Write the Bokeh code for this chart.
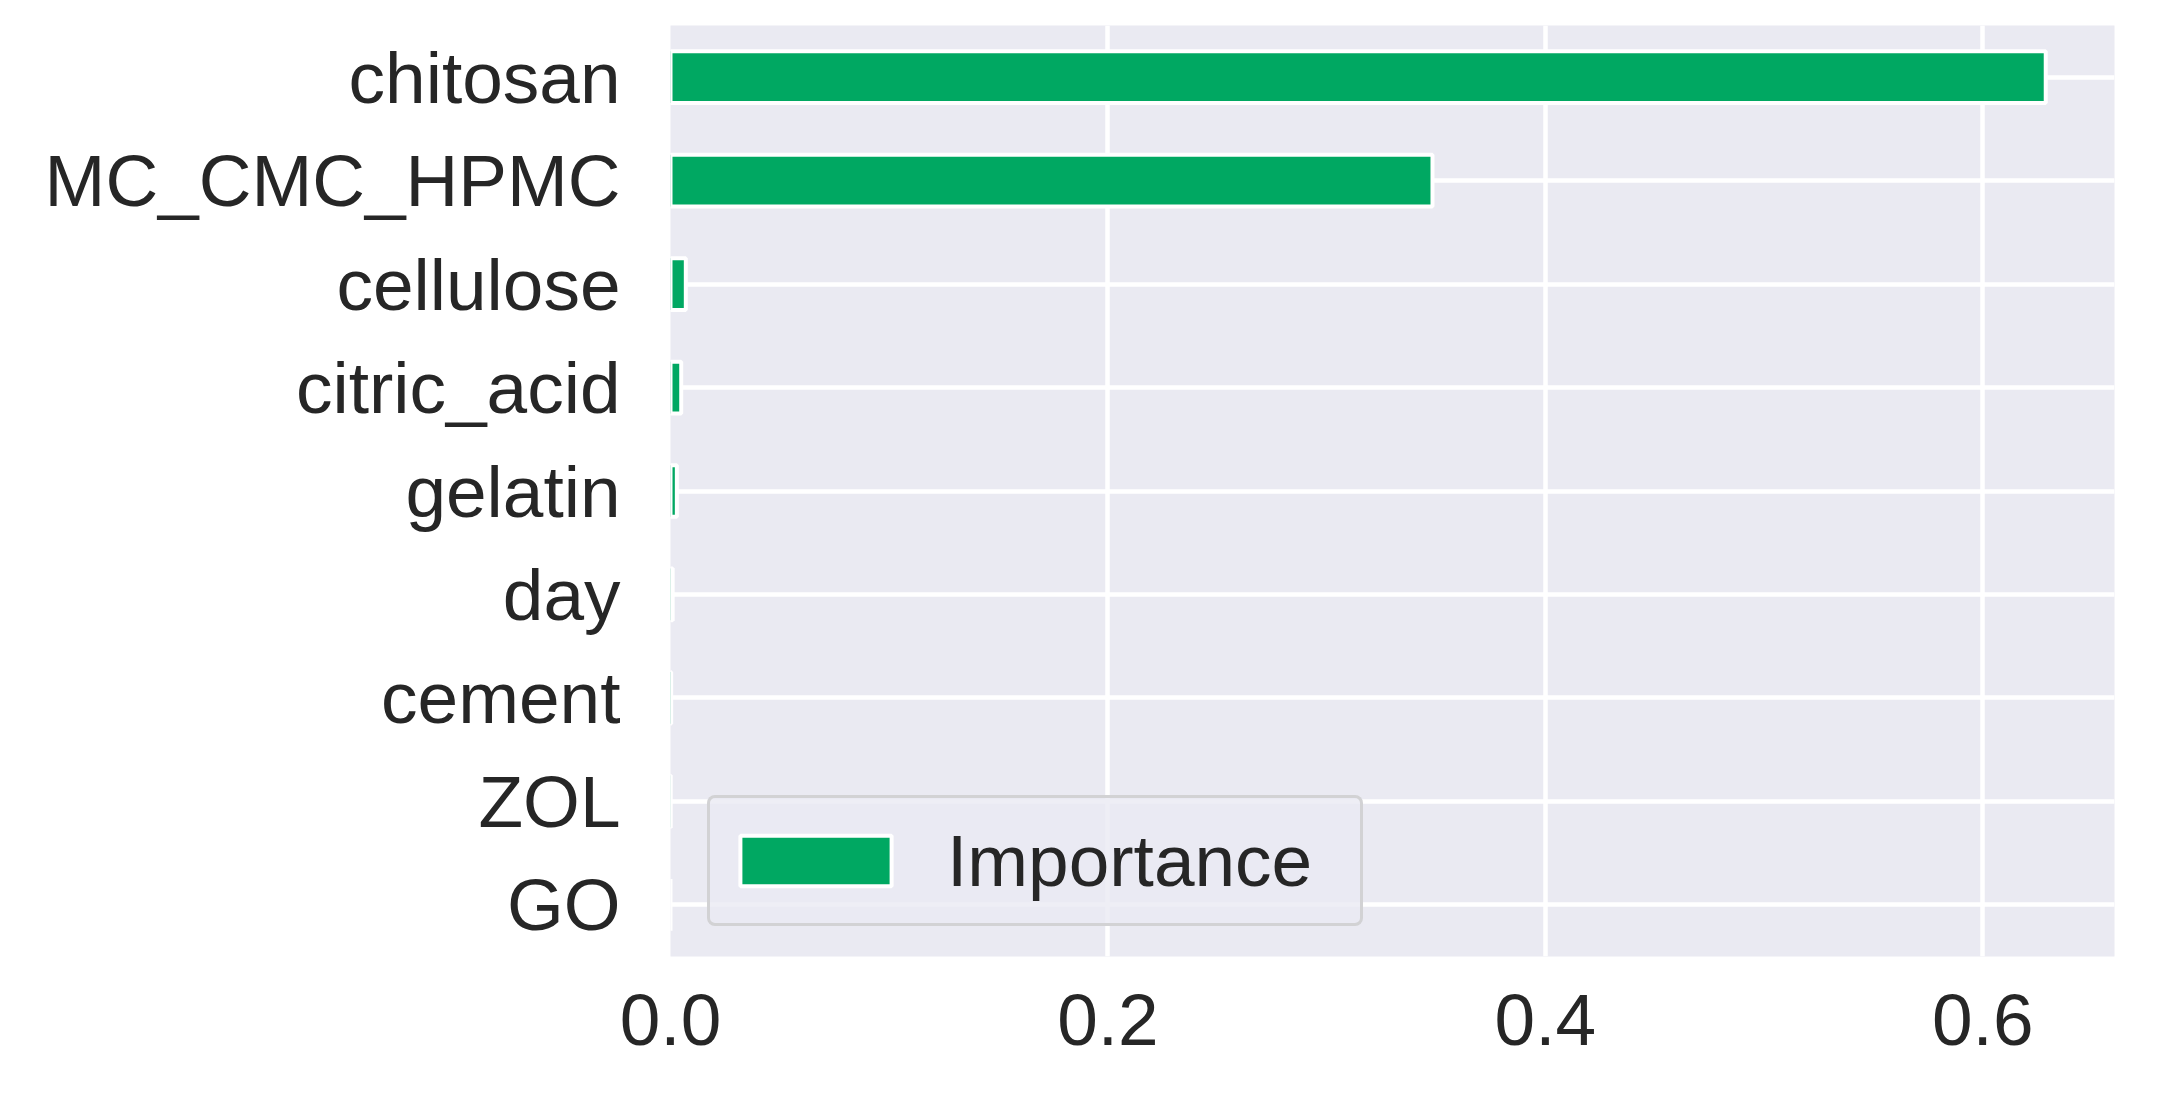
from bokeh.plotting import figure
from bokeh.models import ColumnDataSource, Range1d, FactorRange, FixedTicker
from bokeh.embed import file_html
from bokeh.resources import INLINE

# ---- data (top to bottom as in the chart) ----
features = ["chitosan", "MC_CMC_HPMC", "cellulose", "citric_acid", "gelatin",
            "day", "cement", "ZOL", "GO"]
importance = [0.6288, 0.3484, 0.0070, 0.0049, 0.0029, 0.0010, 0.0003, 0.0001, 0.0]
x_ticks = [0.0, 0.2, 0.4, 0.6]
x_tick_labels = ["0.0", "0.2", "0.4", "0.6"]
series_name = "Importance"

BAR_COLOR = "#00A862"
BG = "#EAEAF2"
TXT = "#262626"
FONT = "Liberation Sans"
FS = "73px"

source = ColumnDataSource(dict(feature=features, importance=importance))

p = figure(width=2158, height=1086,
           y_range=FactorRange(factors=list(reversed(features))),
           x_range=Range1d(0, max(importance) * 1.05),
           output_backend="svg", toolbar_location=None,
           min_border_left=670, min_border_right=44,
           min_border_top=25, min_border_bottom=130)

p.background_fill_color = BG
p.border_fill_color = "white"
p.outline_line_color = None

p.hbar(y="feature", right="importance", left=0, height=0.5, source=source,
       fill_color=BAR_COLOR, line_color="white", line_width=4,
       legend_label=series_name)

# grid
p.xgrid.ticker = FixedTicker(ticks=x_ticks)
p.xgrid.grid_line_color = "white"
p.xgrid.grid_line_width = 4.5
p.ygrid.grid_line_color = "white"
p.ygrid.grid_line_width = 4.5

# axes
p.xaxis.ticker = FixedTicker(ticks=x_ticks)
p.xaxis.major_label_overrides = {t: l for t, l in zip(x_ticks, x_tick_labels)}
for ax in (p.xaxis, p.yaxis):
    ax.axis_line_color = None
    ax.major_tick_line_color = None
    ax.minor_tick_line_color = None
    ax.major_tick_in = 0
    ax.major_tick_out = 0
    ax.minor_tick_in = 0
    ax.minor_tick_out = 0
    ax.major_label_text_font = FONT
    ax.major_label_text_font_size = FS
    ax.major_label_text_color = TXT
p.xaxis.major_label_standoff = 38
p.yaxis.major_label_standoff = 50

# legend
lg = p.legend[0]
lg.location = (37, 30)
lg.padding = 11
lg.spacing = 0
lg.margin = 0
lg.glyph_width = 189
lg.glyph_height = 63
lg.label_standoff = 37
lg.label_width = 402
lg.label_height = 103
lg.label_text_font = FONT
lg.label_text_font_size = FS
lg.label_text_color = TXT
lg.background_fill_color = BG
lg.background_fill_alpha = 0.8
lg.border_line_color = "#CCCCCC"
lg.border_line_alpha = 0.8
lg.border_line_width = 3
try:
    lg.border_radius = 8
except Exception:
    pass

open("out.html", "w").write(file_html(p, INLINE))
